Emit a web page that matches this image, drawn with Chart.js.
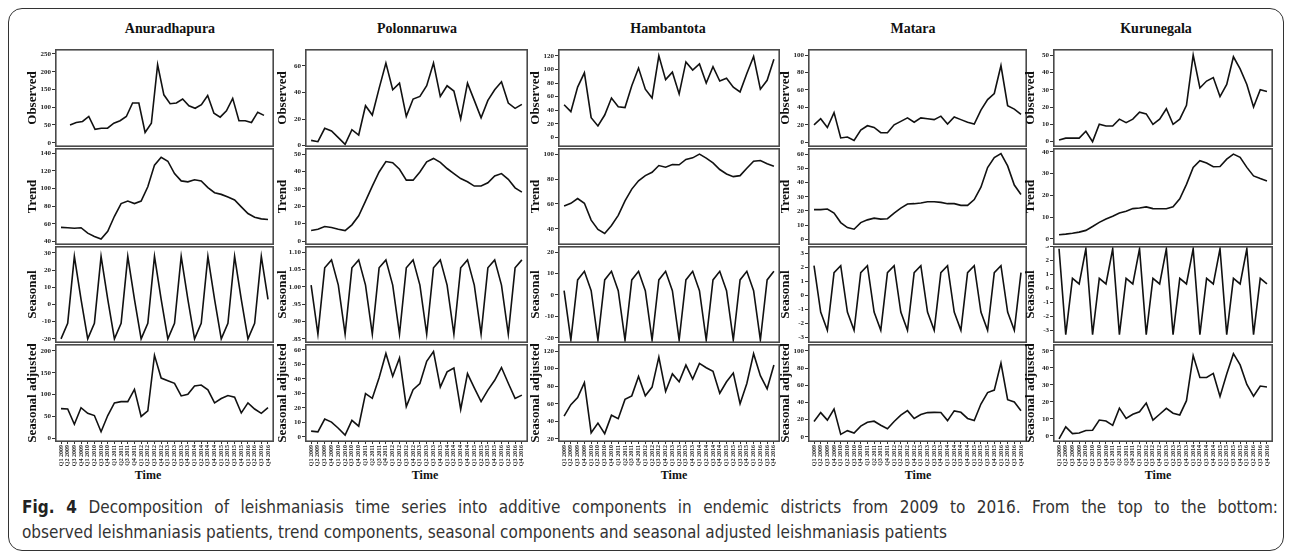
<!DOCTYPE html>
<html>
<head>
<meta charset="utf-8">
<script src="https://cdn.jsdelivr.net/npm/chart.js@4.4.0/dist/chart.umd.min.js"></script>
<style>
  body { margin: 0; width: 1292px; height: 553px; background: #fff; position: relative; overflow: hidden; }
  #frame { position: absolute; left: 8px; top: 8px; width: 1274px; height: 541px; border: 1.5px solid #333; border-radius: 14px; }
  .title { position: absolute; top: 21px; font: bold 14px "Liberation Serif", serif; color: #111; transform: translateX(-50%); white-space: nowrap; }
  .time { position: absolute; top: 468px; font: bold 12px "Liberation Serif", serif; color: #111; transform: translateX(-50%); }
  .panel { position: absolute; }
  #cap { position: absolute; left: 22px; top: 495px; width: 1256px; font: 17px "Liberation Sans Narrow", "DejaVu Sans Condensed", sans-serif; color: #333; }
  #cap div { white-space: nowrap; line-height: 25px; }
  #cap .l1 { text-align: justify; text-align-last: justify; }
</style>
</head>
<body>
<div id="frame"></div>
<div id="cap">
  <div class="l1"><b style="color:#222">Fig. 4</b> Decomposition of leishmaniasis time series into additive components in endemic districts from 2009 to 2016. From the top to the bottom:</div>
  <div>observed leishmaniasis patients, trend components, seasonal components and seasonal adjusted leishmaniasis patients</div>
</div>
<script>
// quarterly data, Q1 2009 .. Q4 2016
var quarters = ["Q1 2009", "Q2 2009", "Q3 2009", "Q4 2009", "Q1 2010", "Q2 2010", "Q3 2010", "Q4 2010",
  "Q1 2011", "Q2 2011", "Q3 2011", "Q4 2011", "Q1 2012", "Q2 2012", "Q3 2012", "Q4 2012",
  "Q1 2013", "Q2 2013", "Q3 2013", "Q4 2013", "Q1 2014", "Q2 2014", "Q3 2014", "Q4 2014",
  "Q1 2015", "Q2 2015", "Q3 2015", "Q4 2015", "Q1 2016", "Q2 2016", "Q3 2016", "Q4 2016"];
var districts = ["Anuradhapura", "Polonnaruwa", "Hambantota", "Matara", "Kurunegala"];
var components = ["Observed", "Trend", "Seasonal", "Seasonal adjusted"];

var anuObserved = [50, 57, 60, 74, 38, 41, 41, 55, 62, 74, 112, 112, 29, 55, 220, 135, 110, 112, 123, 104, 97, 107, 133, 83, 72, 90, 125, 62, 62, 57, 86, 77];
var anuTrend = [56, 55.6, 55, 55.6, 49.5, 45.7, 42.7, 51.5, 68.6, 83, 85.8, 83, 85.8, 102, 126.6, 135.4, 131, 117, 108.7, 107.6, 110, 108.7, 101, 95.3, 93.4, 90.4, 87, 79.3, 71.7, 67.5, 65.6, 65];
var anuSeasonal = [-20, -11, 28, 3, -20, -11, 28, 3, -20, -11, 28, 3, -20, -11, 28, 3, -20, -11, 28, 3, -20, -11, 28, 3, -20, -11, 28, 3, -20, -11, 28, 3];
var anuAdjusted = [68, 67, 32, 70, 57, 52, 15, 52, 81, 84, 84, 112, 50, 63, 190, 138, 132, 126, 97, 101, 120, 122, 111, 81, 91, 98, 94, 58, 81, 67, 57, 70];

var polObserved = [4, 3, 13, 11, 6, 1, 12, 8, 30, 23, 43, 62, 42, 47, 22, 35, 37, 45, 62, 37, 45, 41, 20, 47, 34, 21, 34, 42, 48, 32, 28, 31];
var polTrend = [6, 6.8, 8.3, 7.8, 6.8, 6, 9.3, 14.5, 22.9, 31.6, 39.7, 45.7, 45, 41.3, 35, 35, 39.7, 45.5, 47.5, 45.2, 41.7, 38.8, 35.9, 34.1, 31.6, 31.6, 33.5, 37.4, 38.8, 35.5, 30.6, 28.1];
var polSeasonal = [1.005, 0.864, 1.055, 1.078, 1.005, 0.864, 1.055, 1.078, 1.005, 0.864, 1.055, 1.078, 1.005, 0.864, 1.055, 1.078,
  1.005, 0.864, 1.055, 1.078, 1.005, 0.864, 1.055, 1.078, 1.005, 0.864, 1.055, 1.078, 1.005, 0.864, 1.055, 1.078];
var polAdjusted = [4, 3.5, 12.3, 10.2, 6, 1.2, 11.4, 7.4, 29.9, 26.6, 40.8, 57.5, 41.8, 54.4, 20.9, 32.5, 36.8, 52.1, 58.8, 34.3, 44.8, 47.5, 19, 43.6, 33.8, 24.3, 32.2, 39, 47.8, 37, 26.5, 28.8];

var hamObserved = [48, 38, 74, 95, 29, 17, 33, 58, 45, 44, 76, 102, 71, 58, 120, 85, 96, 64, 111, 99, 108, 80, 104, 83, 87, 74, 67, 94, 119, 71, 84, 115];
var hamTrend = [58.4, 60.5, 64.3, 60.5, 47, 39.5, 36.2, 42.7, 50.8, 62.4, 71.9, 78.6, 82.7, 85.4, 90.8, 89.5, 91.6, 91.4, 95.7, 97, 100, 96.8, 93, 87.6, 84, 81.9, 82.7, 88.6, 94.3, 94.9, 92.2, 90.3];
var hamSeasonal = [2, -21, 7, 11, 2, -21, 7, 11, 2, -21, 7, 11, 2, -21, 7, 11, 2, -21, 7, 11, 2, -21, 7, 11, 2, -21, 7, 11, 2, -21, 7, 11];
var hamAdjusted = [46, 59, 67, 84, 27, 38, 26, 47, 43, 65, 69, 91, 69, 79, 113, 74, 94, 85, 104, 88, 106, 101, 97, 72, 85, 95, 60, 83, 117, 92, 77, 104];

var matObserved = [20, 27, 17, 34, 5, 6, 2, 14, 19, 17, 11, 11, 20, 24, 28, 23, 28, 27, 26, 30, 21, 29, 26, 23, 21, 37, 49, 56, 88, 42, 38, 32];
var matTrend = [20.9, 20.9, 21.3, 18.5, 11.8, 8.3, 7.1, 11.8, 13.7, 14.9, 14.2, 14.5, 18.5, 22, 24.9, 25.1, 25.6, 26.5, 26.5, 26, 25.1, 25.1, 23.9, 23.9, 28, 36.7, 50.5, 57.6, 60.4, 51.7, 38.2, 31.5];
var matSeasonal = [2.1, -1.2, -2.5, 1.6, 2.1, -1.2, -2.5, 1.6, 2.1, -1.2, -2.5, 1.6, 2.1, -1.2, -2.5, 1.6,
  2.1, -1.2, -2.5, 1.6, 2.1, -1.2, -2.5, 1.6, 2.1, -1.2, -2.5, 1.6, 2.1, -1.2, -2.5, 1.6];
var matAdjusted = [17.9, 28.2, 19.5, 32.4, 2.9, 7.2, 4.5, 12.4, 16.9, 18.2, 13.5, 9.4, 17.9, 25.2, 30.5, 21.4, 25.9, 28.2, 28.5, 28.4, 18.9, 30.2, 28.5, 21.4, 18.9, 38.2, 51.5, 54.4, 85.9, 43.2, 40.5, 30.4];

var kurObserved = [1, 2, 2, 2, 6, 0, 10, 9, 9, 13, 11, 13, 17, 16, 10, 13, 19, 10, 13, 21, 50, 31, 35, 37, 26, 33, 49, 42, 33, 20, 30, 29];
var kurTrend = [1.9, 2.2, 2.6, 3.1, 3.9, 5.7, 7.6, 9.1, 10.4, 11.9, 12.7, 13.9, 14.2, 14.7, 13.9, 13.8, 13.8, 14.7, 18.4, 25, 32.8, 35.9, 34.8, 33.1, 33.2, 36.6, 38.9, 37.4, 32.8, 28.9, 27.7, 26.6];
var kurSeasonal = [2.8, -3.3, 0.7, 0.3, 2.8, -3.3, 0.7, 0.3, 2.8, -3.3, 0.7, 0.3, 2.8, -3.3, 0.7, 0.3,
  2.8, -3.3, 0.7, 0.3, 2.8, -3.3, 0.7, 0.3, 2.8, -3.3, 0.7, 0.3, 2.8, -3.3, 0.7, 0.3];
var kurAdjusted = [-1.8, 5.3, 1.3, 1.7, 3.2, 3.3, 9.3, 8.7, 6.2, 16.3, 10.3, 12.7, 14.2, 19.3, 9.3, 12.7, 16.2, 13.3, 12.3, 20.7, 47.2, 34.3, 34.3, 36.7, 23.2, 36.3, 48.3, 41.7, 30.2, 23.3, 29.3, 28.7];

var seriesByDistrict = [
  [anuObserved, anuTrend, anuSeasonal, anuAdjusted],
  [polObserved, polTrend, polSeasonal, polAdjusted],
  [hamObserved, hamTrend, hamSeasonal, hamAdjusted],
  [matObserved, matTrend, matSeasonal, matAdjusted],
  [kurObserved, kurTrend, kurSeasonal, kurAdjusted]
];

// y axis [min, max, step] for each panel
var yAxes = [
  [[-12, 264, 50], [36, 146, 20], [-22.4, 34, 10], [-8.6, 216, 50]],
  [[-1, 72.6, 20], [-2.3, 53.5, 10], [0.838, 1.118, 0.05], [-3.5, 64, 10]],
  [[-14, 130, 20], [27, 104.9, 20], [-22.4, 22.8, 10], [16.5, 128, 20]],
  [[-5.4, 107, 20], [-4, 64.3, 10], [-3.4, 3.5, 1], [-6, 108, 20]],
  [[-3.1, 53.5, 10], [-2.8, 41.7, 10], [-3.9, 3.0, 1], [-3.6, 54, 10]]
];

// layout
var colLeft = [55, 305, 558, 808, 1053];
var colRight = [274, 528, 780, 1027, 1273];
var rowTop = [49, 148, 246, 344];
var rowBottom = [147, 245, 343, 442];
var titleX = [170, 417, 668, 913, 1156];
var timeX = [148, 425, 674, 918, 1158];
var axisW = 30;
var labelH = 30;

var boxPlugin = {
  id: 'box',
  afterDraw: function (chart) {
    var a = chart.chartArea, ctx = chart.ctx;
    ctx.save();
    ctx.strokeStyle = '#4a4a4a';
    ctx.lineWidth = 1.6;
    ctx.strokeRect(a.left + 0.8, a.top + 0.8, a.right - a.left - 1.6, a.bottom - a.top - 1.6);
    ctx.restore();
  }
};

function seasonalLabel(v) {
  return v.toFixed(2).replace(/^0/, '');
}

function fitY(s) {
  s.width = axisW;
  s.paddingTop = 0;
  s.paddingBottom = 0;
}

function fitX(s) {
  s.height = labelH;
  s.paddingLeft = 0;
  s.paddingRight = 0;
}

for (var c = 0; c < districts.length; c++) {
  var t = document.createElement('div');
  t.className = 'title';
  t.style.left = titleX[c] + 'px';
  t.textContent = districts[c];
  document.body.appendChild(t);

  var tm = document.createElement('div');
  tm.className = 'time';
  tm.style.left = timeX[c] + 'px';
  tm.textContent = 'Time';
  document.body.appendChild(tm);

  for (var r = 0; r < components.length; r++) {
    var last = r === components.length - 1;
    var w = colRight[c] - colLeft[c] + axisW;
    var h = rowBottom[r] - rowTop[r] + (last ? labelH : 0);
    var div = document.createElement('div');
    div.className = 'panel';
    div.style.left = (colLeft[c] - axisW) + 'px';
    div.style.top = rowTop[r] + 'px';
    div.style.width = w + 'px';
    div.style.height = h + 'px';
    var cv = document.createElement('canvas');
    cv.width = w;
    cv.height = h;
    div.appendChild(cv);
    document.body.appendChild(div);

    var values = seriesByDistrict[c][r];
    var ya = yAxes[c][r];
    var xr = (c === 0 && r === 0) ? [-2.4, 32.6] : [-0.9, 31.9];

    new Chart(cv, {
      type: 'line',
      data: {
        datasets: [{
          data: values.map(function (v, i) { return { x: i, y: v }; }),
          borderColor: '#111',
          borderWidth: 1.6,
          pointRadius: 0,
          tension: 0,
          fill: false
        }]
      },
      options: {
        responsive: false,
        animation: false,
        events: [],
        layout: { padding: 0 },
        plugins: { legend: { display: false }, tooltip: { enabled: false } },
        scales: {
          x: {
            type: 'linear',
            min: xr[0],
            max: xr[1],
            display: last,
            afterFit: last ? fitX : undefined,
            border: { display: false },
            grid: { drawOnChartArea: false, tickLength: 2, color: '#333' },
            ticks: {
              stepSize: 1,
              autoSkip: false,
              includeBounds: false,
              minRotation: 90,
              maxRotation: 90,
              padding: 1,
              color: '#222',
              font: { family: 'Liberation Serif', size: 6, weight: 'bold' },
              callback: function (v) { return quarters[v] || ''; }
            }
          },
          y: {
            min: ya[0],
            max: ya[1],
            afterFit: fitY,
            border: { display: false },
            grid: { drawOnChartArea: false, tickLength: 3, color: '#333' },
            title: {
              display: true,
              text: components[r],
              color: '#111',
              padding: { top: 0, bottom: 0 },
              font: { family: 'Liberation Serif', size: 13, weight: 'bold' }
            },
            ticks: {
              stepSize: ya[2],
              includeBounds: false,
              padding: 1,
              color: '#222',
              font: { family: 'Liberation Serif', size: 7, weight: 'bold' },
              callback: (c === 1 && r === 2) ? seasonalLabel : undefined
            }
          }
        }
      },
      plugins: [boxPlugin]
    });
  }
}
</script>
</body>
</html>
